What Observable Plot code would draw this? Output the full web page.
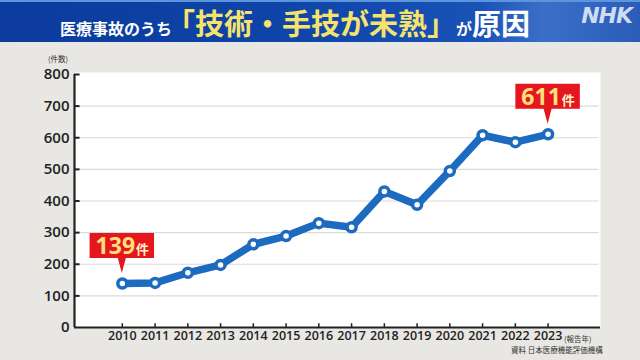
<!DOCTYPE html>
<html><head><meta charset="utf-8">
<script src="https://cdn.jsdelivr.net/npm/d3@7"></script>
<script src="https://cdn.jsdelivr.net/npm/@observablehq/plot@0.6"></script>
<style>
html,body{margin:0;padding:0;}
#wrap{position:relative;width:640px;height:360px;overflow:hidden;background:#e8e7e4;font-family:"Noto Sans CJK JP","Noto Sans",sans-serif;}
#head{position:absolute;left:0;top:0;width:640px;height:42px;box-sizing:border-box;border-top:2px solid #5b95dc;
 background:linear-gradient(90deg,#0b3b9c 0%,#0f44a8 45%,#1a52b8 75%,#3a6fc8 85%,#2a5cb8 100%);}
#title{position:absolute;left:60px;top:0;height:40px;white-space:nowrap;font-weight:700;color:#fff;line-height:40px;}
#title .s{font-size:16px;}
#title .b{font-size:29px;}
#title .y{color:#f6e36c;margin-left:-6px;}
#nhk{position:absolute;right:8px;top:1px;font-family:"DejaVu Sans",sans-serif;font-weight:700;font-style:italic;font-size:22px;color:#cfdcf2;letter-spacing:-1px;}
#chart{position:absolute;left:0;top:42px;}
.note{position:absolute;font-size:7.5px;color:#333;white-space:nowrap;}
</style></head>
<body><div id="wrap">
<div id="head"><div id="title"><span class="s">医療事故のうち</span><span class="b y">「技術・手技が未熟」</span><span class="s">が</span><span class="b">原因</span></div><div id="nhk">NHK</div></div>
<div id="chart"></div>
<div class="note" style="left:48px;top:53px;">(件数)</div>
<div class="note" style="left:564px;top:333px;">(報告年)</div>
<div class="note" style="left:511px;top:344px;">資料 日本医療機能評価機構</div>
</div>
<script>
const years = [2010,2011,2012,2013,2014,2015,2016,2017,2018,2019,2020,2021,2022,2023];
const counts = [139,141,173,198,263,289,330,317,430,388,495,608,586,611];
const yTicks = [0,100,200,300,400,500,600,700,800];
const calloutYears = [2010,2023];
const unit = "件";

const data = years.map((y,i)=>({year:y,count:counts[i]}));
const x0 = 2008.54, x1 = 2024.6;
const blue = "#1d6bc0";
const chart = Plot.plot({
  width:640, height:318,
  marginLeft:74, marginRight:40, marginTop:32, marginBottom:33,
  style:{background:"transparent", fontFamily:"'Open Sans','Noto Sans',sans-serif", color:"#222", overflow:"visible"},
  x:{type:"linear", domain:[x0,x1]},
  y:{domain:[0,800]},
  marks:[
    Plot.frame({fill:"white", stroke:"none", insetTop:-2}),
    Plot.ruleY(yTicks.filter(d=>d>0&&d<800), {x1:x0, x2:x1-0.05, stroke:"#dadada", strokeWidth:1.2}),
    Plot.ruleY(yTicks.filter(d=>d>0), {x1:x0, x2:x0+0.17, stroke:"#222", strokeWidth:2}),
    Plot.ruleX(years, {y1:0, y2:12, stroke:"#222", strokeWidth:1.5}),
    Plot.ruleX([x0], {stroke:"#222", strokeWidth:2.2}),
    Plot.ruleY([0], {x1:x0, x2:x1, stroke:"#222", strokeWidth:2.2}),
    Plot.axisY({ticks:yTicks, tickSize:0, tickPadding:5, fontSize:15, fontWeight:600, label:null, tickFormat:d=>String(d)}),
    Plot.axisX({ticks:years, tickSize:0, tickPadding:4, fontSize:12.5, fontWeight:600, label:null, tickFormat:d=>String(d)}),
    Plot.line(data, {x:"year", y:"count", stroke:blue, strokeWidth:7.5, strokeLinejoin:"round", strokeLinecap:"round"}),
    Plot.dot(data, {x:"year", y:"count", r:4.5, fill:"white", stroke:blue, strokeWidth:3.5})
  ]
});
document.getElementById("chart").appendChild(chart);

const sx = chart.scale("x"), sy = chart.scale("y");
const svg = d3.select(chart);
for (const yr of calloutYears) {
  const d = data.find(e=>e.year===yr);
  const px = sx.apply(d.year), py = sy.apply(d.count);
  const g = svg.append("g");
  const path = g.append("path").attr("fill","#e5161d");
  const t = g.append("text").attr("y", py-29).attr("font-weight",700).attr("text-anchor","start")
    .attr("font-family","'Open Sans','Noto Sans',sans-serif");
  t.append("tspan").attr("font-size",23).attr("fill","#ffe07e").text(String(d.count));
  t.append("tspan").attr("font-size",13).attr("fill","#fff1c8").attr("font-family","'Noto Sans CJK JP',sans-serif").attr("dx",1).text(unit);
  const tw = t.node().getComputedTextLength();
  const w = tw + 12, h = 25;
  const left = px - w/2, bottom = py - 25, top = bottom - h, tip = py - 10;
  t.attr("x", px - tw/2);
  path.attr("d", `M${left},${top}H${left+w}V${bottom}H${px+4}L${px},${tip}L${px-4},${bottom}H${left}Z`);
}
</script>
</body></html>
